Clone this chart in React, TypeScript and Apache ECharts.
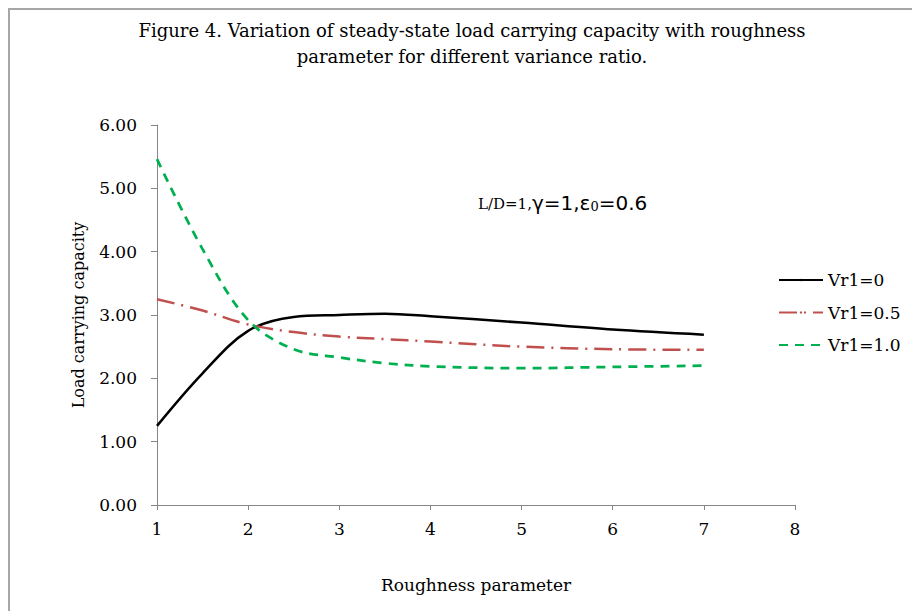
import React, { useEffect, useRef } from "react";
import * as echarts from "echarts";

const xValues = [1, 1.5, 2, 2.5, 3, 3.5, 4, 5, 6, 7];
const vr0 = [1.25, 2.08, 2.75, 2.97, 3.0, 3.02, 2.98, 2.88, 2.77, 2.69];
const vr05 = [3.25, 3.07, 2.85, 2.73, 2.66, 2.62, 2.58, 2.5, 2.46, 2.45];
const vr10 = [5.46, 4.04, 2.92, 2.46, 2.33, 2.24, 2.19, 2.16, 2.18, 2.2];
const seriesNames = ["Vr1=0", "Vr1=0.5", "Vr1=1.0"];
const titleText =
  "Figure 4. Variation of steady-state load carrying capacity with roughness\nparameter for different variance ratio.";

const SERIF = "'DejaVu Serif', 'Liberation Serif', serif";
const SANS = "'DejaVu Sans', 'Liberation Sans', sans-serif";

export default function App() {
  const ref = useRef<HTMLDivElement>(null);
  useEffect(() => {
    if (!ref.current) return;
    const chart = echarts.init(ref.current, null, { renderer: "svg" });
    const pair = (ys: number[]) => xValues.map((x, i) => [x, ys[i]]);
    const axisLine = { show: true, lineStyle: { color: "#868686", width: 1 } };
    chart.setOption({
      animation: false,
      backgroundColor: "#ffffff",
      title: {
        text: titleText,
        left: 467,
        top: 12,
        textAlign: "center",
        textStyle: {
          fontFamily: SERIF,
          fontSize: 18,
          fontWeight: "normal",
          color: "#000",
          lineHeight: 26,
        },
      },
      grid: { left: 157, top: 125, width: 638, height: 380, containLabel: false },
      legend: {
        orient: "vertical",
        left: 773,
        top: 265,
        itemWidth: 44,
        itemHeight: 3,
        itemGap: 12.5,
        textStyle: { fontFamily: SERIF, fontSize: 17, color: "#000", lineHeight: 20 },
        data: seriesNames,
      },
      xAxis: {
        type: "value",
        min: 1,
        max: 8,
        interval: 1,
        name: "Roughness parameter",
        nameLocation: "middle",
        nameGap: 71,
        nameTextStyle: { fontFamily: SERIF, fontSize: 17, color: "#000" },
        axisLine,
        axisTick: { show: true, length: 5, lineStyle: { color: "#868686" } },
        axisLabel: { fontFamily: SERIF, fontSize: 17, color: "#000", margin: 15 },
        splitLine: { show: false },
      },
      yAxis: {
        type: "value",
        min: 0,
        max: 6,
        interval: 1,
        name: "Load carrying capacity",
        nameLocation: "middle",
        nameGap: 71,
        nameRotate: 90,
        nameTextStyle: { fontFamily: SERIF, fontSize: 16, color: "#000" },
        axisLine,
        axisTick: { show: true, length: 6, lineStyle: { color: "#868686" } },
        axisLabel: {
          fontFamily: SERIF,
          fontSize: 17,
          color: "#000",
          margin: 20,
          formatter: (v: number) => v.toFixed(2),
        },
        splitLine: { show: false },
      },
      series: [
        {
          name: seriesNames[0],
          type: "line",
          data: pair(vr0),
          smooth: 0.35,
          symbol: "none",
          lineStyle: { color: "#000000", width: 2.5, type: "solid" },
          itemStyle: { color: "#000000" },
        },
        {
          name: seriesNames[1],
          type: "line",
          data: pair(vr05),
          smooth: 0.35,
          symbol: "none",
          lineStyle: { color: "#C0504D", width: 2.5, type: [18, 7, 2, 7] },
          itemStyle: { color: "#C0504D" },
        },
        {
          name: seriesNames[2],
          type: "line",
          data: pair(vr10),
          smooth: 0.35,
          symbol: "none",
          lineStyle: { color: "#00B050", width: 2.75, type: [9, 7] },
          itemStyle: { color: "#00B050" },
        },
      ],
      graphic: [
        {
          type: "rect",
          shape: { x: 9, y: 9, width: 1000, height: 1000 },
          style: { fill: "none", stroke: "#a6a6a6", lineWidth: 2 },
          silent: true,
        },
        {
          type: "text",
          left: 478,
          top: 193,
          style: {
            text: "{a|L/D=1,}{b|γ=1,ε}{c|0}{b|=0.6}",
            rich: {
              a: { fontFamily: SERIF, fontSize: 15, color: "#000", verticalAlign: "bottom", lineHeight: 26, padding: [0, 0, 2, 0] },
              b: { fontFamily: SANS, fontSize: 20, color: "#000", verticalAlign: "bottom", lineHeight: 26 },
              c: { fontFamily: SERIF, fontSize: 13, color: "#000", verticalAlign: "bottom", lineHeight: 26 },
            },
          },
        },
      ],
    });
    return () => chart.dispose();
  }, []);
  return (
    <div
      ref={ref}
      style={{ position: "absolute", left: 0, top: 0, width: 912, height: 611 }}
    />
  );
}
